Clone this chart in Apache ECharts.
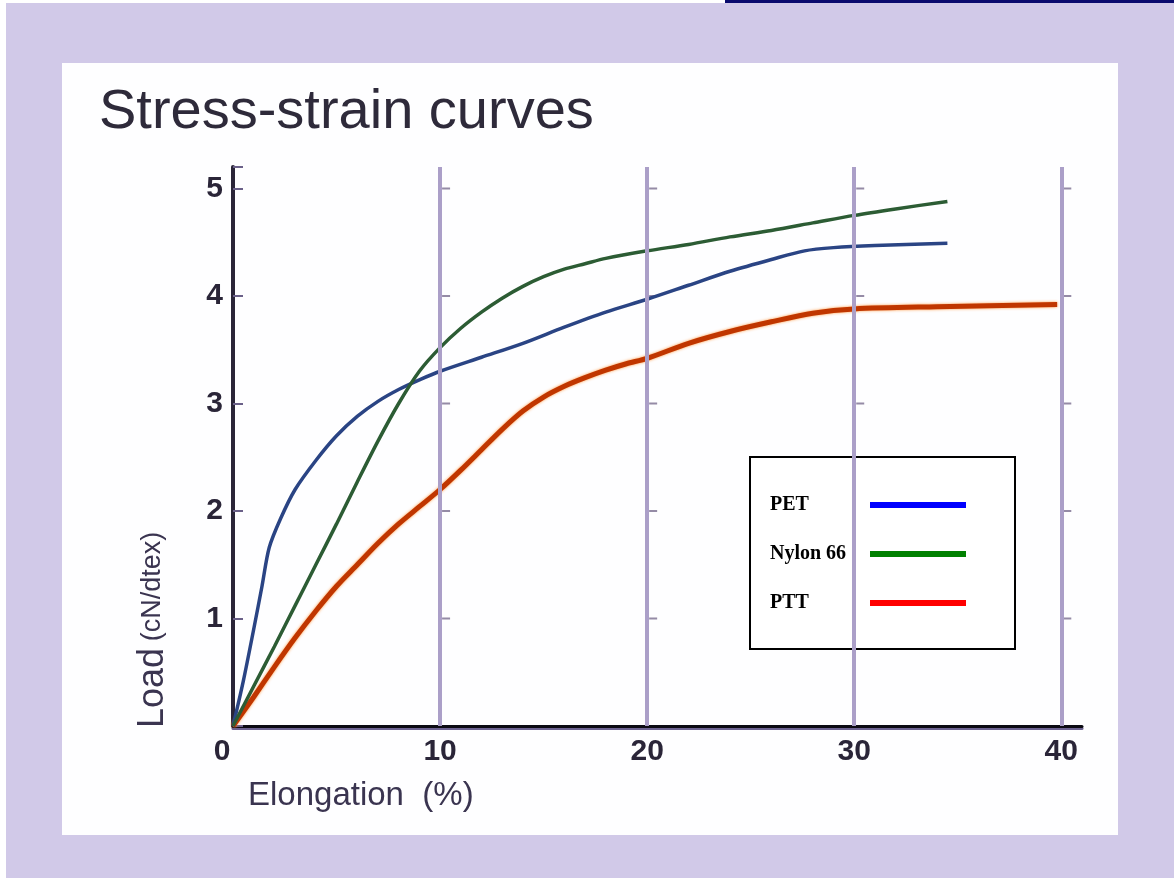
<!DOCTYPE html>
<html>
<head>
<meta charset="utf-8">
<script src="https://cdn.jsdelivr.net/npm/echarts@6/dist/echarts.min.js"></script>
<style>
html,body{margin:0;padding:0;background:#d1c9e8;overflow:hidden;}
#topwhite{position:absolute;left:0;top:0;width:725px;height:3px;background:#fff;}
#topnavy{position:absolute;left:725px;top:0;width:449px;height:3px;background:#0a0a6e;}
#leftwhite{position:absolute;left:0;top:0;width:6px;height:878px;background:#fff;}
#panel{position:absolute;left:62px;top:63px;width:1056px;height:772px;background:#fefeff;}
#chart{position:absolute;left:0;top:0;width:1174px;height:878px;}
</style>
</head>
<body>
<div id="topwhite"></div><div id="topnavy"></div><div id="leftwhite"></div>
<div id="panel"></div>
<div id="chart"></div>
<script>
// ---- data (x = elongation %, y = load cN/dtex) ----
const xTickValues = [0, 10, 20, 30, 40];
const yTickValues = [1, 2, 3, 4, 5];
const seriesNames = ['PET', 'Nylon 66', 'PTT'];

const petX = [0, 0.5, 1.0, 1.4, 1.75, 2.3, 3.0, 4.0, 5.0, 6.0, 7.0, 8.0, 9.0, 10, 12, 14, 16, 18, 20, 22, 24, 26, 27.6, 29, 31, 34.5];
const petY = [0, 0.42, 0.9, 1.3, 1.66, 1.93, 2.2, 2.47, 2.7, 2.88, 3.02, 3.13, 3.22, 3.3, 3.43, 3.56, 3.71, 3.85, 3.97, 4.1, 4.23, 4.34, 4.42, 4.45, 4.47, 4.49];

const nylonX = [0, 1, 2, 3, 4, 5, 6, 7, 8, 9, 10, 11, 12, 13, 14, 15, 16, 17, 18, 20, 22, 24, 26, 28, 30, 32, 34.5];
const nylonY = [0, 0.37, 0.74, 1.12, 1.5, 1.88, 2.27, 2.65, 3.0, 3.3, 3.52, 3.7, 3.85, 3.98, 4.09, 4.18, 4.25, 4.3, 4.35, 4.42, 4.48, 4.55, 4.61, 4.68, 4.75, 4.81, 4.88];

const pttX = [0, 1, 2, 3, 4, 5, 6, 7, 8, 9, 10, 11, 12, 13, 14, 15, 16, 17, 18, 19, 20, 22, 24, 26, 28, 30, 34, 39.8];
const pttY = [0, 0.27, 0.55, 0.82, 1.07, 1.3, 1.5, 1.7, 1.88, 2.04, 2.2, 2.38, 2.57, 2.76, 2.93, 3.06, 3.16, 3.24, 3.31, 3.37, 3.42, 3.56, 3.67, 3.76, 3.84, 3.88, 3.9, 3.92];

const legendColors = ['#0000ff', '#008000', '#ff0000'];
const lineColors = ['#2a4484', '#2c5c34', '#c03600'];

function pairs(xs, ys) { return xs.map((x, i) => [x, ys[i]]); }

const gridXs = xTickValues.filter(v => v > 0);
// small tick marks on the vertical grid lines
const gridTickMarks = [];
gridXs.forEach(gx => yTickValues.forEach(gy => gridTickMarks.push([gx, gy])));

const chart = echarts.init(document.getElementById('chart'), null, {renderer: 'canvas'});
const FONT = '"Liberation Sans", Arial, sans-serif';
const TEXT = '#2a2538';

chart.setOption({
  backgroundColor: 'transparent',
  animation: false,
  title: {
    text: 'Stress-strain curves',
    left: 94, top: 80,
    textStyle: {fontFamily: FONT, fontSize: 56, fontWeight: 'normal', color: '#2e2a3a'}
  },
  grid: {left: 233, right: 92, top: 167, bottom: 152, containLabel: false},
  xAxis: {
    type: 'value', min: 0, max: 41, interval: 10,
    axisLine: {show: true, lineStyle: {color: '#0b0a12', width: 3, shadowColor: '#6c6290', shadowOffsetY: 2}},
    axisTick: {show: false},
    splitLine: {show: false},
    axisLabel: {
      fontFamily: FONT, fontSize: 30, fontWeight: 'bold', color: TEXT, margin: 11,
      formatter: v => xTickValues.indexOf(v) < 0 ? '' : (v === 0 ? '{z|0}' : String(v)),
      rich: {z: {fontFamily: FONT, fontSize: 30, fontWeight: 'bold', color: TEXT, padding: [0, 22, 0, 0]}}
    }
  },
  yAxis: {
    type: 'value', min: 0, max: 5.2, interval: 1,
    axisLine: {show: true, lineStyle: {color: '#2a2538', width: 4}},
    axisTick: {show: true, inside: true, length: 10, lineStyle: {color: '#6a6088', width: 2}},
    splitLine: {show: false},
    axisLabel: {
      fontFamily: FONT, fontSize: 30, fontWeight: 'bold', color: TEXT, margin: 10,
      formatter: v => yTickValues.indexOf(v) < 0 ? '' : String(v)
    }
  },
  legend: {
    orient: 'vertical',
    left: 750, top: 457,
    padding: [38, 49, 36, 20],
    itemGap: 29,
    itemWidth: 96, itemHeight: 6,
    icon: 'rect',
    align: 'right',
    backgroundColor: '#ffffff',
    borderColor: '#000000', borderWidth: 2,
    selectedMode: false,
    data: seriesNames.map((n, i) => ({name: n, itemStyle: {color: legendColors[i]}})),
    formatter: name => '{n|' + name + '}',
    textStyle: {
      rich: {n: {width: 95, align: 'left', fontFamily: '"Liberation Serif", "Times New Roman", serif', fontWeight: 'bold', fontSize: 20, color: '#000', lineHeight: 20}}
    }
  },
  graphic: [
    {
      type: 'text', x: 248, y: 779, z: 100,
      style: {text: 'Elongation  (%)', font: '33px ' + FONT, fill: '#3a3450', textAlign: 'left', textVerticalAlign: 'top'}
    },
    {
      type: 'text', x: 153, y: 728, rotation: Math.PI / 2, z: 100,
      style: {
        text: '{a|Load}  {b|(cN/dtex)}',
        textAlign: 'left', textVerticalAlign: 'middle',
        rich: {
          a: {fontFamily: FONT, fontSize: 36, fill: '#3a3450'},
          b: {fontFamily: FONT, fontSize: 27, fill: '#3a3450'}
        }
      }
    }
  ],
  series: [
    {
      name: 'gridTicks', type: 'scatter', silent: true, z: 1,
      data: gridTickMarks, symbol: 'rect', symbolSize: [8, 2], symbolOffset: [6, 0],
      itemStyle: {color: '#7a6e90'},
      markLine: {
        silent: true, symbol: 'none', label: {show: false},
        lineStyle: {color: '#ab9fc8', width: 4, type: 'solid'},
        data: gridXs.map(v => ({xAxis: v}))
      }
    },
    {
      name: seriesNames[0], type: 'line', data: pairs(petX, petY), showSymbol: false,
      smooth: 0.3, z: 3,
      lineStyle: {color: lineColors[0], width: 3.5}, itemStyle: {color: lineColors[0]}
    },
    {
      name: seriesNames[1], type: 'line', data: pairs(nylonX, nylonY), showSymbol: false,
      smooth: 0.3, z: 3,
      lineStyle: {color: lineColors[1], width: 3.5}, itemStyle: {color: lineColors[1]}
    },
    {
      name: seriesNames[2], type: 'line', data: pairs(pttX, pttY), showSymbol: false,
      smooth: 0.3, z: 2,
      lineStyle: {color: lineColors[2], width: 5, shadowColor: 'rgba(255,140,40,0.9)', shadowBlur: 3}, itemStyle: {color: lineColors[2]}
    }
  ]
});
</script>
</body>
</html>
